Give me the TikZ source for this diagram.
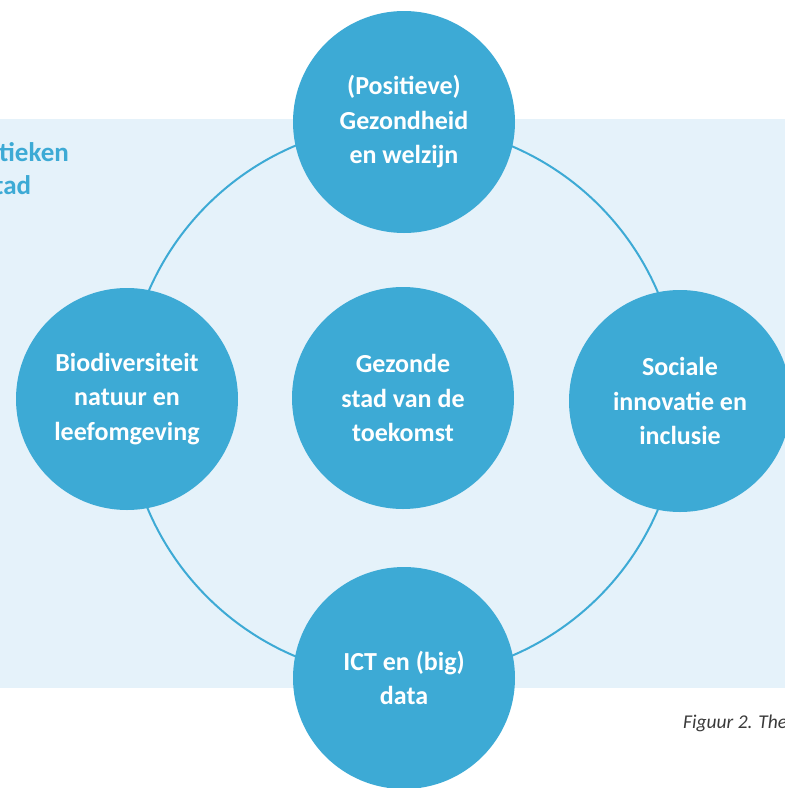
\documentclass[tikz,border=0pt]{standalone}
\usepackage{fontspec}
\setmainfont{Carlito}
\definecolor{cblue}{HTML}{3DAAD5}
\definecolor{bgblue}{HTML}{E5F2FA}
\definecolor{capgrey}{HTML}{3A3A3A}
\begin{document}
\begin{tikzpicture}[x=1pt,y=-1pt,
  topic/.style={circle,fill=cblue,minimum size=222pt,inner sep=0pt,
    text=white,font=\bfseries\fontsize{26}{34.5}\selectfont,align=center},
  side/.style={anchor=base west,text=cblue,font=\bfseries\fontsize{27}{33}\selectfont,inner sep=0pt},
  ring/.style={draw=cblue,line width=2pt}]
\useasboundingbox (0,0) rectangle (785,788);
\clip (0,0) rectangle (785,788);
\fill[bgblue] (0,119) rectangle (785,688);
\node[side] (side1) at (-1,161) {tieken};
\node[side] (side2) at (-6,194) {tad};
\node[anchor=west,text=capgrey,font=\itshape\fontsize{19.5}{22}\selectfont,inner sep=0pt] (caption) at (683,723) {Figuur 2. The};
\coordinate (c) at (403,401);
\draw[ring] (c) circle[radius=277];
\node[topic] (top) at (404,122) {(Positieve)\\Gezondheid\\en welzijn};
\node[topic] (left) at (127,399) {Biodiversiteit\\natuur en\\leefomgeving};
\node[topic] (right) at (680,401) {Sociale\\innovatie en\\inclusie};
\node[topic] (bottom) at (404,678) {ICT en (big)\\data};
\node[topic] (center) at (403,398) {Gezonde\\stad van de\\toekomst};
\end{tikzpicture}
\end{document}
